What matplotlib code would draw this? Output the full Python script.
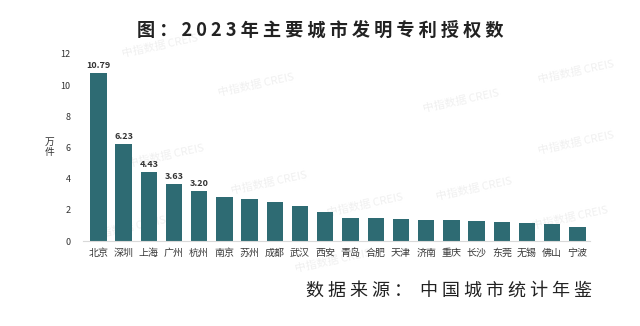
import matplotlib
matplotlib.use("Agg")
import matplotlib.pyplot as plt

plt.rcParams['font.family'] = ['Noto Sans CJK SC', 'DejaVu Sans']

cities = ["北京", "深圳", "上海", "广州", "杭州", "南京", "苏州", "成都", "武汉", "西安",
          "青岛", "合肥", "天津", "济南", "重庆", "长沙", "东莞", "无锡", "佛山", "宁波"]
values = [10.79, 6.23, 4.43, 3.63, 3.20, 2.84, 2.67, 2.52, 2.26, 1.89,
          1.49, 1.48, 1.39, 1.33, 1.33, 1.26, 1.24, 1.15, 1.11, 0.92]
labeled = 5
yticks = [0, 2, 4, 6, 8, 10, 12]

title = "图：2023年主要城市发明专利授权数"
source = "数据来源：中国城市统计年鉴"
watermark = "中指数据 CREIS"
# watermark positions in figure fraction
wm_pos = [(0.25, 0.86), (0.40, 0.74), (0.72, 0.69), (0.26, 0.52), (0.42, 0.44),
          (0.57, 0.37), (0.74, 0.42), (0.20, 0.30), (0.52, 0.20), (0.90, 0.78),
          (0.90, 0.56), (0.89, 0.33)]

fig = plt.figure(figsize=(6.4, 3.26), dpi=100)
ax = fig.add_axes([0.13, 0.2607, 0.792, 0.5737])
ax.set_zorder(2)

for (wx, wy) in wm_pos:
    fig.text(wx, wy, watermark, fontsize=8, color="#f0f0f0", rotation=12,
             ha="center", va="center", zorder=0)

x = list(range(len(cities)))
bars = ax.bar(x, values, width=0.65, color="#2e6b73", zorder=2)
for i in range(labeled):
    ax.text(x[i], values[i] + 0.2, f"{values[i]:.2f}", ha="center", va="bottom",
            fontsize=6.5, color="#333333", fontweight="bold")

ax.set_facecolor("none")
ax.set_xlim(-0.6, 19.5)
ax.set_ylim(0, 12)
ax.set_yticks(yticks)
ax.set_yticklabels([str(t) for t in yticks], fontsize=6.5, color="#333333")
ax.set_xticks(x)
ax.set_xticklabels(cities, fontsize=7.2, color="#3a3a3a")
ax.tick_params(axis="both", length=0)
ax.tick_params(axis="y", pad=9)
ax.tick_params(axis="x", pad=5)
for s in ["top", "right", "left"]:
    ax.spines[s].set_visible(False)
ax.spines["bottom"].set_color("#d9d9d9")
ax.spines["bottom"].set_linewidth(0.8)

fig.text(0.078, 0.548, "万\n件", fontsize=7, color="#333333", ha="center", va="center",
         linespacing=1.0)

fig.text(0.5, 0.906, " ".join(list(title)), ha="center", va="center",
         fontsize=13.1, fontweight="bold", color="#222222")
src = " ".join(list(source)).replace("：", "： ")
fig.text(0.925, 0.107, src, ha="right", va="center",
         fontsize=13, color="#222222")

fig.savefig("out.png", dpi=100, facecolor="white")
